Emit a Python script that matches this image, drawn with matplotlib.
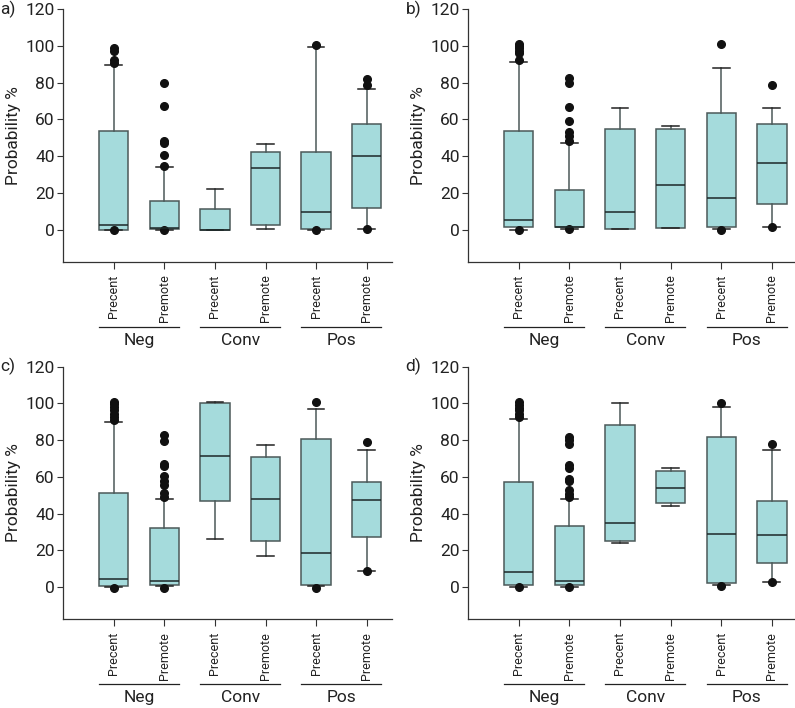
import numpy as np
import matplotlib
matplotlib.use('Agg')
import matplotlib.pyplot as plt

plt.rcParams['font.family'] = ['Roboto', 'DejaVu Sans']

groups = ['Neg', 'Conv', 'Pos']
tick_labels = ['Precent', 'Premote', 'Precent', 'Premote', 'Precent', 'Premote']
panel_names = ['a)', 'b)', 'c)', 'd)']

# per panel: (q1, median, q3, whisker low, whisker high) for the six boxes
a_q1 = [0.0, 0.7, 0.0, 2.4, 0.7, 11.6]
a_med = [2.7, 1.0, 0.0, 33.4, 9.6, 40.1]
a_q3 = [53.6, 15.8, 11.4, 42.1, 42.1, 57.6]
a_lo = [0.0, 0.0, 0.0, 0.7, 0.0, 0.7]
a_hi = [89.7, 34.0, 22.3, 46.9, 99.7, 76.7]
a_fliers = [[0, 90.8, 92.6, 97.2, 98.8], [0, 34.9, 40.5, 47.2, 48.3, 67.2, 79.6],
            [], [], [0, 100.4], [0.7, 78.5, 82.1]]

b_q1 = [1.3, 1.3, 0.2, 0.9, 1.3, 14.1]
b_med = [5.3, 1.5, 9.6, 24.3, 17.2, 36.6]
b_q3 = [53.5, 21.4, 54.6, 54.6, 63.6, 57.3]
b_lo = [0.0, 0.4, 0.2, 0.9, 0.5, 1.3]
b_hi = [91.4, 47.3, 66.5, 56.4, 87.9, 66.0]
b_fliers = [[0, 92.4, 96.0, 97.5, 98.8, 100.0, 101.3],
            [0.4, 48.4, 50.8, 53.0, 59.3, 67.0, 79.7, 82.5],
            [], [], [0, 101.0], [1.3, 78.7]]

c_q1 = [0.7, 0.9, 46.7, 25.3, 0.9, 27.0]
c_med = [4.5, 3.4, 71.5, 48.1, 18.6, 47.6]
c_q3 = [51.2, 32.4, 100.3, 70.8, 80.5, 57.2]
c_lo = [0.0, 0.5, 26.2, 16.7, 0.5, 9.0]
c_hi = [90.0, 47.8, 100.8, 77.5, 96.7, 74.4]
c_fliers = [[-0.4, 91.0, 92.5, 94.3, 96.1, 97.9, 99.4, 100.6],
            [-0.4, 49.0, 51.2, 55.4, 57.7, 60.3, 65.7, 67.1, 79.5, 82.5],
            [], [], [-0.4, 100.8], [8.7, 78.9]]

d_q1 = [1.1, 1.4, 25.3, 45.6, 2.2, 12.9]
d_med = [8.0, 3.6, 34.8, 53.9, 29.0, 28.4]
d_q3 = [57.2, 33.1, 88.0, 63.2, 81.8, 47.1]
d_lo = [0.2, 0.2, 24.1, 44.3, 0.9, 2.9]
d_hi = [91.2, 47.8, 100.1, 64.6, 98.1, 74.4]
d_fliers = [[0, 92.5, 94.3, 96.1, 97.6, 99.2, 100.6],
            [0, 49.0, 50.9, 52.7, 57.7, 59.0, 65.0, 66.2, 77.6, 79.8, 81.6],
            [], [], [0.4, 100.3], [2.9, 78.0]]

panels = [
    (a_q1, a_med, a_q3, a_lo, a_hi, a_fliers),
    (b_q1, b_med, b_q3, b_lo, b_hi, b_fliers),
    (c_q1, c_med, c_q3, c_lo, c_hi, c_fliers),
    (d_q1, d_med, d_q3, d_lo, d_hi, d_fliers),
]

fill = '#a5dbdc'
edge = '#4b5959'

fig = plt.figure(figsize=(7.95, 7.08), dpi=100)
rects = [
    [0.0792, 0.630, 0.414, 0.357],
    [0.5887, 0.630, 0.414, 0.357],
    [0.0792, 0.1253, 0.414, 0.357],
    [0.5887, 0.1253, 0.414, 0.357],
]

for rect, name, (q1, med, q3, lo, hi, fl) in zip(rects, panel_names, panels):
    ax = fig.add_axes(rect)
    stats = []
    for i in range(6):
        stats.append(dict(q1=q1[i], med=med[i], q3=q3[i], whislo=lo[i],
                          whishi=hi[i], fliers=np.array(fl[i])))
    ax.bxp(stats, positions=range(1, 7), widths=0.58, capwidths=0.33,
           patch_artist=True, showfliers=True,
           boxprops=dict(facecolor=fill, edgecolor=edge, linewidth=1.1),
           medianprops=dict(color='#1c2828', linewidth=1.1),
           whiskerprops=dict(color=edge, linewidth=1.1),
           capprops=dict(color='#222222', linewidth=1.1),
           flierprops=dict(marker='o', markerfacecolor='#111111',
                           markeredgecolor='#111111', markersize=5.5))

    ax.set_xlim(0, 6.5)
    ax.set_ylim(-17.5, 120)
    ax.set_yticks([0, 20, 40, 60, 80, 100, 120])
    ax.set_xticks(range(1, 7))
    ax.set_xticklabels(tick_labels, rotation=90, fontsize=9, color='#222222')
    ax.tick_params(axis='y', labelsize=12.5, length=4, width=0.8,
                   colors='#333333', labelcolor='#222222', pad=2)
    ax.tick_params(axis='x', length=5, width=0.8, colors='#333333',
                   labelcolor='#222222', pad=4)
    ax.spines['top'].set_visible(False)
    ax.spines['right'].set_visible(False)
    ax.spines['left'].set_bounds(-17.5, 120)
    for s in ('left', 'bottom'):
        ax.spines[s].set_color('#333333')
        ax.spines[s].set_linewidth(0.9)
    ax.set_ylabel('Probability %', fontsize=12.5, color='#222222', labelpad=3)

    trans = ax.get_xaxis_transform()
    for g, label in enumerate(groups):
        c = 1.5 + 2 * g
        ax.plot([c - 0.79, c + 0.79], [-0.257, -0.257], color='#222222',
                linewidth=0.9, transform=trans, clip_on=False)
        ax.text(c, -0.31, label, transform=trans, ha='center', va='center',
                fontsize=12.5, color='#222222')

    ax.text(-0.19, 1.0, name, transform=ax.transAxes, ha='left', va='center',
            fontsize=12.5, color='#222222')

fig.savefig('out.png', dpi=100)
